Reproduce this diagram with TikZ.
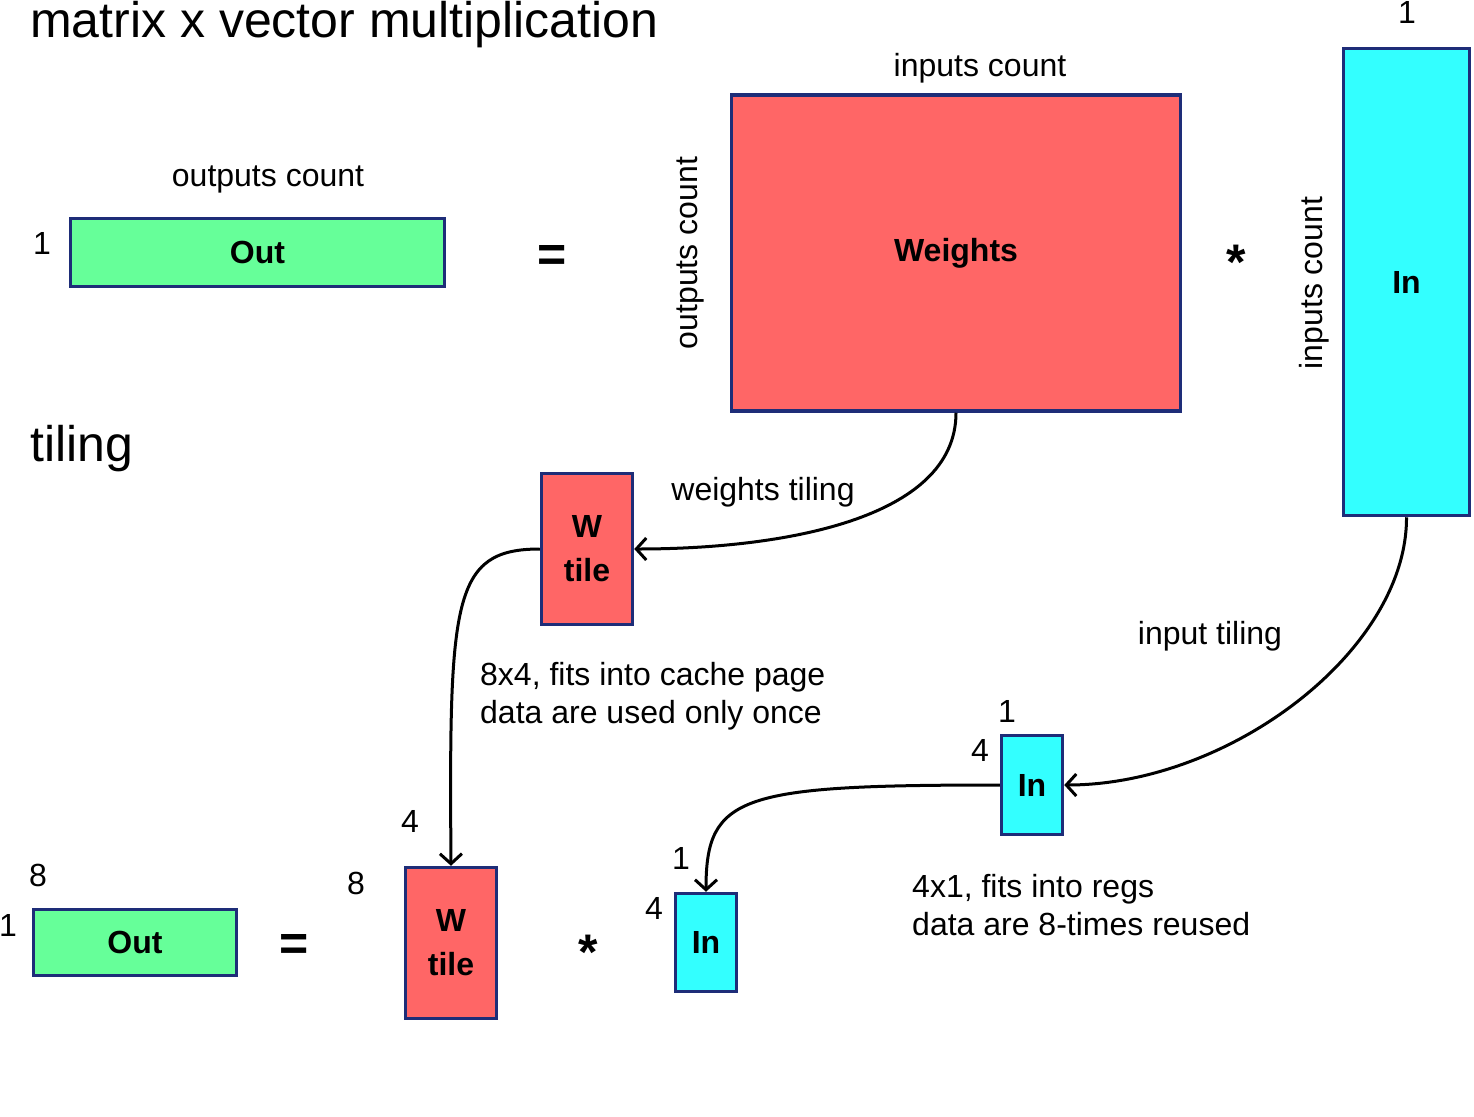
\documentclass[tikz,border=0pt]{standalone}
\usepackage{fontspec}
\setmainfont{Liberation Sans}
\usetikzlibrary{arrows.meta}
\definecolor{boxline}{RGB}{30,45,120}
\definecolor{outgreen}{RGB}{102,255,153}
\definecolor{wred}{RGB}{255,102,102}
\definecolor{incyan}{RGB}{51,255,255}

\begin{document}
\begin{tikzpicture}[x=1pt,y=-1pt,
   box/.style={draw=boxline,line width=3.5pt,inner sep=0pt,align=center,
     font=\fontsize{32}{44}\selectfont\bfseries},
   txt/.style={inner sep=0pt,font=\fontsize{32}{38}\selectfont},
   big/.style={inner sep=0pt,font=\fontsize{50}{60}\selectfont},
   op/.style={inner sep=0pt,font=\fontsize{50}{60}\selectfont\bfseries},
   link/.style={line width=3pt,-{Straight Barb[length=10pt,width=22pt]}}]
   \useasboundingbox (0,0) rectangle (1474,1116);

   % matrix x vector
   \node[big,anchor=west] (title) at (30,25) {matrix x vector multiplication};
   \node[box,fill=outgreen,minimum width=374pt,minimum height=68pt] (out) at (257.5,252.5) {Out};
   \node[txt] (outw) at (268,179) {outputs count};
   \node[txt] (outh) at (42,243) {1};
   \node[op] (eq) at (552,258) {=};
   \node[box,fill=wred,minimum width=449pt,minimum height=316pt] (weights) at (956,253) {Weights};
   \node[txt] (weightsw) at (980,68) {inputs count};
   \node[txt,rotate=90] (weightsh) at (690,253) {outputs count};
   \node[op] (mul) at (1236,262) {*};
   \node[box,fill=incyan,minimum width=126pt,minimum height=467pt] (inbig) at (1406.5,282) {In};
   \node[txt] (inbigw) at (1407,12) {1};
   \node[txt,rotate=90] (inbigh) at (1314,283) {inputs count};

   % tiling
   \node[big,anchor=west] (tiling) at (30,449) {tiling};
   \node[box,fill=wred,minimum width=91pt,minimum height=151pt] (wtile) at (587,549) {W\\tile};
   \node[txt] (wlabel) at (763,492) {weights tiling};
   \node[txt,anchor=base west,align=left] (wnote) at (480,723) {8x4, fits into cache page\\data are used only once};
   \node[box,fill=incyan,minimum width=61pt,minimum height=99pt] (inmid) at (1032,785) {In};
   \node[txt] (inmidw) at (1007,711) {1};
   \node[txt] (inmidh) at (980,750) {4};
   \node[txt] (inlabel) at (1210,636) {input tiling};
   \node[txt,anchor=base west,align=left] (innote) at (912,935) {4x1, fits into regs\\data are 8-times reused};

   \node[box,fill=outgreen,minimum width=203pt,minimum height=66pt] (outbot) at (135,942.5) {Out};
   \node[txt] (outbotw) at (38,875) {8};
   \node[txt] (outboth) at (8,925) {1};
   \node[op] (eqbot) at (294,947) {=};
   \node[box,fill=wred,minimum width=91pt,minimum height=151pt] (wtilebot) at (451,943) {W\\tile};
   \node[txt] (wtilebotw) at (410,821) {4};
   \node[txt] (wtilebοth) at (356,883) {8};
   \node[op] (mulbot) at (588,952) {*};
   \node[box,fill=incyan,minimum width=61pt,minimum height=98pt] (inbot) at (706,942.5) {In};
   \node[txt] (inbotw) at (681,858) {1};
   \node[txt] (inboth) at (654,908) {4};

   \draw[link] (weights.south) .. controls (956,520) and (780,549) .. (wtile.east);
   \draw[link] (wtile.west) .. controls (452,549) and (449,600) .. (wtilebot.north);
   \draw[link] (inbig.south) .. controls (1407,650) and (1230,785) .. (inmid.east);
   \draw[link] (inmid.west) .. controls (740,785) and (706,795) .. (inbot.north);
\end{tikzpicture}
\end{document}
